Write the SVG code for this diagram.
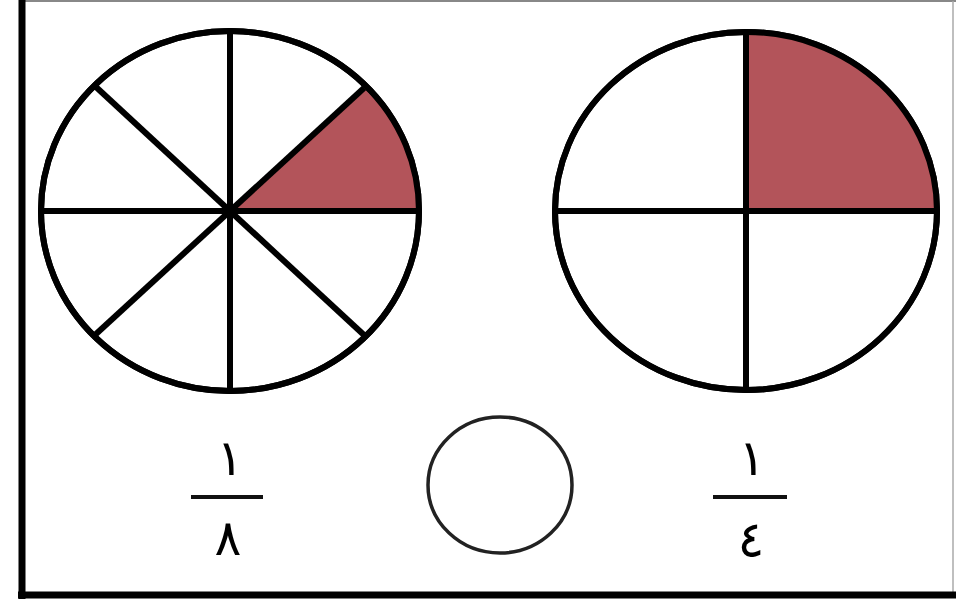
<svg xmlns="http://www.w3.org/2000/svg" width="956" height="612" viewBox="0 0 956 612">
<style>
.pie{fill:#fff;stroke:#000;stroke-width:6}
.spoke{stroke:#000;stroke-width:6;stroke-linecap:butt}
.shade{fill:#b3545a;stroke:none}
.digit{font-family:"DejaVu Sans",sans-serif;font-size:50px;fill:#000;text-anchor:middle}
.bar{stroke:#111;stroke-width:4}
</style>
<rect x="0" y="0" width="956" height="612" fill="#fff"/>
<g id="frame">
<line x1="22" y1="1" x2="956" y2="1" stroke="#888" stroke-width="2"/>
<line x1="953" y1="1" x2="953" y2="595" stroke="#aaa" stroke-width="1.5"/>
<line x1="22" y1="0" x2="22" y2="599" stroke="#000" stroke-width="7"/>
<line x1="18" y1="595" x2="956" y2="595" stroke="#000" stroke-width="7"/>
</g>
<g id="circle-eighths">
<ellipse class="pie" cx="230" cy="211" rx="189" ry="180"/>
<path class="shade" d="M230 211 L364 88 A189 180 0 0 1 419 211 Z"/>
<ellipse cx="230" cy="211" rx="189" ry="180" fill="none" stroke="#000" stroke-width="6"/>
<line class="spoke" x1="230" y1="31" x2="230" y2="391"/>
<line class="spoke" x1="41" y1="211" x2="419" y2="211"/>
<line class="spoke" x1="96" y1="87" x2="364" y2="335"/>
<line class="spoke" x1="364" y1="88" x2="96" y2="334"/>
<circle cx="231" cy="211" r="6" fill="#000"/>
</g>
<g id="circle-quarters">
<ellipse class="pie" cx="746" cy="211" rx="191" ry="179"/>
<path class="shade" d="M746 211 L746 32 A191 179 0 0 1 937 211 Z"/>
<ellipse cx="746" cy="211" rx="191" ry="179" fill="none" stroke="#000" stroke-width="6"/>
<line class="spoke" x1="746" y1="32" x2="746" y2="390"/>
<line class="spoke" x1="555" y1="211" x2="937" y2="211"/>
</g>
<g id="blank-circle">
<ellipse cx="500" cy="485" rx="72" ry="68" fill="#fff" stroke="#222" stroke-width="3.5"/>
</g>
<g id="fraction-1-8">
<text class="digit" x="230" y="475">١</text>
<line class="bar" x1="191" y1="497" x2="263" y2="497"/>
<text class="digit" x="228" y="555">٨</text>
</g>
<g id="fraction-1-4">
<text class="digit" x="752" y="475">١</text>
<line class="bar" x1="713" y1="497" x2="787" y2="497"/>
<text class="digit" x="751" y="557">٤</text>
</g>
</svg>
